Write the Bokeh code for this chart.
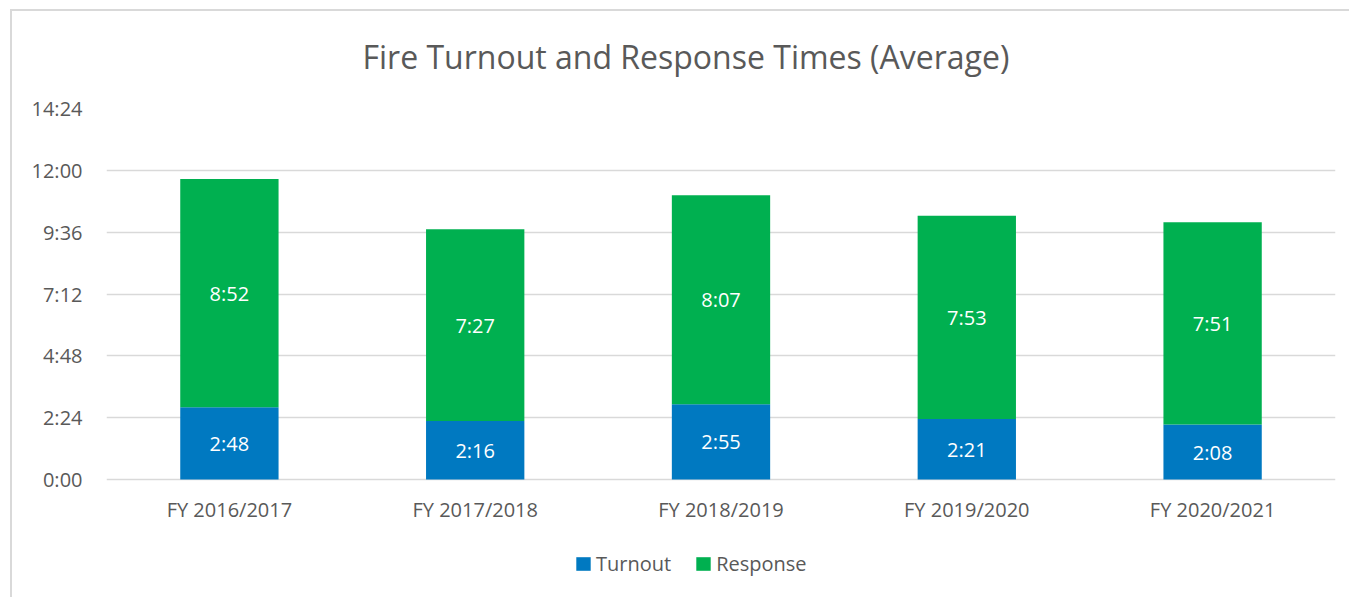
from bokeh.plotting import figure
from bokeh.models import ColumnDataSource, FactorRange, Range1d, FixedTicker, Legend, LegendItem, LabelSet
from bokeh.core.properties import value
from bokeh.embed import file_html
from bokeh.resources import INLINE

categories = ["FY 2016/2017", "FY 2017/2018", "FY 2018/2019", "FY 2019/2020", "FY 2020/2021"]
turnout_sec = [168, 136, 175, 141, 128]      # 2:48, 2:16, 2:55, 2:21, 2:08
response_sec = [532, 447, 487, 473, 471]     # 8:52, 7:27, 8:07, 7:53, 7:51
y_ticks = [0, 144, 288, 432, 576, 720, 864]

def fmt(s):
    return f"{s // 60}:{s % 60:02d}"

src = ColumnDataSource(dict(
    cat=categories,
    turnout=turnout_sec,
    response=response_sec,
    top=[a + b for a, b in zip(turnout_sec, response_sec)],
    t_mid=[a / 2 for a in turnout_sec],
    r_mid=[a + b / 2 for a, b in zip(turnout_sec, response_sec)],
    t_lab=[fmt(s) for s in turnout_sec],
    r_lab=[fmt(s) for s in response_sec],
))

FONT = "Open Sans"
TXT = "#595959"
BLUE = "#0079C1"
GREEN = "#00B050"

# layout geometry (pixels)
W, H = 1349, 597
FRAME_TOP, ZERO_Y = 108, 479          # pixel rows of the top tick and of 0:00
Y_MAX = y_ticks[-1]
sec_per_px = Y_MAX / (ZERO_Y - FRAME_TOP)
y_start = -(H - ZERO_Y) * sec_per_px   # frame runs to the bottom so the legend isn't clipped

p = figure(x_range=FactorRange(*categories, range_padding=0), y_range=Range1d(y_start, Y_MAX),
           width=W, height=H, output_backend="svg", toolbar_location=None,
           min_border_left=106, min_border_right=W - 1335, min_border_top=FRAME_TOP, min_border_bottom=0)
p.border_fill_color = None
p.background_fill_color = None
p.outline_line_color = None
p.styles = {
    "background": "linear-gradient(#d9d9d9,#d9d9d9) 10px 9px / 2px 100% no-repeat, "
                  "linear-gradient(#d9d9d9,#d9d9d9) 10px 9px / 100% 2px no-repeat",
}

p.title.text = "Fire Turnout and Response Times (Average)"
p.title.text_font = FONT
p.title.text_font_size = "32px"
p.title.text_font_style = "normal"
p.title.text_color = TXT
p.title.align = "left"
p.title.offset = 256
p.title.standoff = 61

r1 = p.vbar(x="cat", bottom=0, top="turnout", width=0.4, source=src,
            fill_color=BLUE, line_color=None)
r2 = p.vbar(x="cat", bottom="turnout", top="top", width=0.4, source=src,
            fill_color=GREEN, line_color=None)

for ycol, tcol in (("t_mid", "t_lab"), ("r_mid", "r_lab")):
    p.add_layout(LabelSet(x="cat", y=ycol, text=tcol, source=src,
                          text_align="center", text_baseline="middle",
                          text_color="white", text_font=value(FONT), text_font_size="20px"))

p.yaxis.ticker = FixedTicker(ticks=y_ticks)
p.yaxis.major_label_overrides = {t: fmt(t) for t in y_ticks}
p.xaxis.fixed_location = 0
for ax in (p.xaxis, p.yaxis):
    ax.axis_line_color = None
    ax.major_tick_line_color = None
    ax.minor_tick_line_color = None
    ax.major_tick_out = 0
    ax.major_tick_in = 0
    ax.major_label_text_font = FONT
    ax.major_label_text_font_size = "20px"
    ax.major_label_text_color = TXT
p.yaxis.major_label_standoff = 24
p.xaxis.major_label_standoff = 16

p.xgrid.grid_line_color = None
p.ygrid.grid_line_color = "#d9d9d9"
p.ygrid.grid_line_width = 1.5

legend = Legend(items=[LegendItem(label="Turnout", renderers=[r1]),
                       LegendItem(label="Response", renderers=[r2])],
                orientation="horizontal", location=(468, 20),
                glyph_width=18, glyph_height=17, label_standoff=4, spacing=23,
                padding=0, margin=0, border_line_color=None, background_fill_color=None,
                label_text_font=FONT, label_text_font_size="20px", label_text_color=TXT)
p.add_layout(legend)

open("out.html", "w").write(file_html(p, INLINE))
